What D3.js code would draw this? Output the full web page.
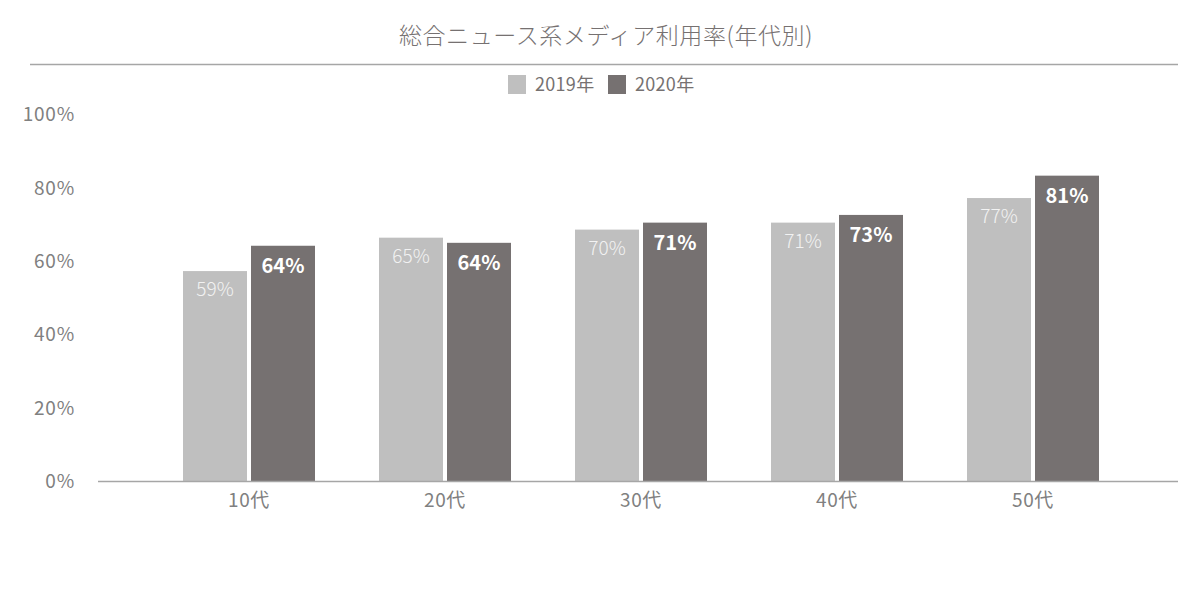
<!DOCTYPE html>
<html><head><meta charset="utf-8">
<script src="https://cdn.jsdelivr.net/npm/d3@7/dist/d3.min.js"></script>
<style>body{margin:0;background:#fff}svg{display:block}text{font-family:"Noto Sans CJK JP","Noto Sans",sans-serif}</style>
</head><body>
<script>
const title = "総合ニュース系メディア利用率(年代別)";
const categories = ["10代","20代","30代","40代","50代"];
const seriesNames = ["2019年","2020年"];
const values2019 = [57.2, 66.3, 68.5, 70.4, 77.1];
const values2020 = [64.1, 64.9, 70.4, 72.5, 83.2];
const labels2019 = ["59%","65%","70%","71%","77%"];
const labels2020 = ["64%","64%","71%","73%","81%"];
const yTicks = [0,20,40,60,80,100];
const colors = ["#bfbfbf","#767171"];

const W=1200,H=600;
const svg=d3.select("body").append("svg").attr("width",W).attr("height",H);

const y=d3.scaleLinear().domain([0,100]).range([481,114]);
const x0=d3.scaleBand().domain(categories).range([151,1131]).paddingInner(64/196).paddingOuter(32/196);
const x1=d3.scaleBand().domain(seriesNames).range([0,x0.bandwidth()]).paddingInner(4/68);

// title
svg.append("text").attr("x",606).attr("y",44).attr("text-anchor","middle")
  .attr("font-size",23).attr("letter-spacing",0.6).attr("fill","#767171").attr("font-weight",300).text(title);
svg.append("line").attr("x1",30).attr("x2",1178).attr("y1",64.5).attr("y2",64.5)
  .attr("stroke","#a6a6a6").attr("stroke-width",1.3);

// legend
const legendX=[508,608];
seriesNames.forEach((s,i)=>{
  svg.append("rect").attr("x",legendX[i]).attr("y",75).attr("width",18).attr("height",19).attr("fill",colors[i]);
  svg.append("text").attr("x",legendX[i]+27).attr("y",91).attr("font-size",18).attr("letter-spacing",0.3).attr("fill","#767171").text(s);
});

// y axis labels
const yAxis=d3.axisLeft(y).tickValues(yTicks).tickFormat(d=>d+"%").tickSize(0).tickPadding(0);
const ya=svg.append("g").attr("transform","translate(75,0)").call(yAxis);
ya.select(".domain").remove();
ya.selectAll("text").attr("font-size",19).attr("letter-spacing",0.8).attr("fill","#808080").attr("font-family","'Noto Sans CJK JP',sans-serif").attr("dy","0.35em");

// x axis
const xAxis=d3.axisBottom(x0).tickSize(0).tickPadding(10);
const xa=svg.append("g").attr("transform","translate(0,481)").call(xAxis);
xa.select(".domain").remove();
xa.selectAll("text").attr("font-size",19).attr("letter-spacing",0.6).attr("fill","#808080").attr("font-family","'Noto Sans CJK JP',sans-serif").attr("dy","0.85em");

const data=categories.map((c,i)=>({c, vals:[
  {s:seriesNames[0],v:values2019[i],l:labels2019[i]},
  {s:seriesNames[1],v:values2020[i],l:labels2020[i]}]}));

const g=svg.selectAll("g.grp").data(data).enter().append("g").attr("class","grp")
  .attr("transform",d=>`translate(${x0(d.c)},0)`);
g.selectAll("rect").data(d=>d.vals).enter().append("rect")
  .attr("x",d=>x1(d.s)).attr("width",x1.bandwidth())
  .attr("y",d=>y(d.v)).attr("height",d=>y(0)-y(d.v))
  .attr("fill",(d,i)=>colors[i]);
g.selectAll("text.lbl").data(d=>d.vals).enter().append("text").attr("class","lbl")
  .attr("x",d=>x1(d.s)+x1.bandwidth()/2)
  .attr("y",(d,i)=>y(d.v)+(i===0?25:27))
  .attr("text-anchor","middle")
  .attr("font-size",(d,i)=>i===0?19:20)
  .attr("font-weight",(d,i)=>i===0?300:700)
  .attr("fill",(d,i)=>i===0?"#f2f2f2":"#ffffff")
  .text(d=>d.l);

// baseline
svg.append("line").attr("x1",98).attr("x2",1178).attr("y1",y(0)+0.5).attr("y2",y(0)+0.5)
  .attr("stroke","#a6a6a6").attr("stroke-width",1.3);
</script>
</body></html>
